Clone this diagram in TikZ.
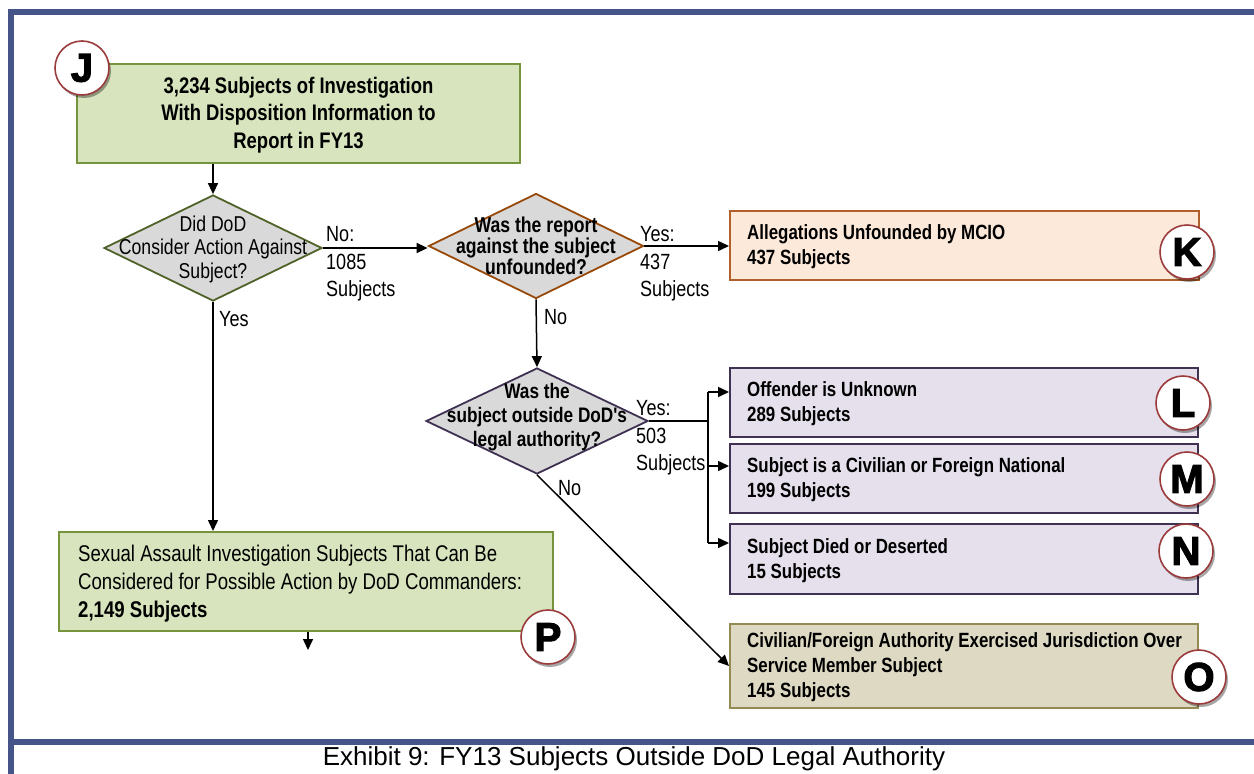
\documentclass[tikz,border=0pt]{standalone}
\usepackage{fontspec}
\setmainfont{Liberation Sans}
\newfontfamily\nar[FakeStretch=0.82]{Liberation Sans}
\newfontfamily\heavy[BoldFeatures={FakeBold=3}]{Liberation Sans}
\usetikzlibrary{shapes.geometric,arrows.meta,shadows}
\definecolor{frameblue}{HTML}{45558A}
\definecolor{gfill}{HTML}{D7E4BD}
\definecolor{gline}{HTML}{77933C}
\definecolor{dfill}{HTML}{D9D9D9}
\definecolor{donel}{HTML}{4F6228}
\definecolor{dtwol}{HTML}{984807}
\definecolor{dthreel}{HTML}{3F3151}
\definecolor{kfill}{HTML}{FDE9D9}
\definecolor{kline}{HTML}{B0602A}
\definecolor{pfill}{HTML}{E5E0EC}
\definecolor{pline}{HTML}{3F3151}
\definecolor{ofill}{HTML}{DDD9C3}
\definecolor{oline}{HTML}{948A54}
\definecolor{cred}{HTML}{9B3B3B}
\tikzset{
  every node/.style={inner sep=0pt},
  boxnode/.style={draw, rectangle, line width=2pt},
  btext/.style={anchor=west, align=left, font=\nar\bfseries\fontsize{20.6}{25}\selectfont},
  dianode/.style={diamond, draw, fill=dfill, line width=1.8pt, inner sep=0pt},
  lbl/.style={anchor=west, align=left, font=\nar\fontsize{22}{27.5}\selectfont},
  conn/.style={line width=1.5pt, -{Triangle[length=11pt,width=10pt]}},
  plain/.style={line width=1.5pt},
  bubble/.style={circle, draw=cred, line width=1.6pt, fill=white, minimum size=54pt,
    font=\heavy\bfseries\fontsize{40}{40}\selectfont,
    drop shadow={shadow xshift=2pt, shadow yshift=-3pt, opacity=0.35, fill=black}}
}
\begin{document}
\begin{tikzpicture}[x=1pt,y=-1pt]
\useasboundingbox (0,0) rectangle (1254,774);
% frame
\fill[frameblue] (8,9) rectangle (1254,15);
\fill[frameblue] (8,9) rectangle (14,774);
\fill[frameblue] (14,739) rectangle (1254,745);
\node[font=\fontsize{26}{30}\selectfont] (cap) at (634,759) {Exhibit 9: FY13 Subjects Outside DoD Legal Authority};

% top box J
\node[boxnode, draw=gline, fill=gfill, minimum width=443pt, minimum height=99pt] (jbox) at (298.5,113.5) {};
\node[align=center, font=\nar\bfseries\fontsize{22.5}{27.5}\selectfont] (jtext) at (298.5,115) {3,234 Subjects of Investigation\\With Disposition Information to\\Report in FY13};
\node[bubble] (jc) at (82,68) {J};

% diamonds
\node[dianode, draw=donel, minimum width=218pt, minimum height=106pt] (d1) at (213,248) {};
\node[align=center, font=\nar\fontsize{21.5}{23.5}\selectfont] (d1t) at (213,249) {Did DoD\\Consider Action Against\\Subject?};
\node[dianode, draw=dtwol, minimum width=215pt, minimum height=105pt] (d2) at (536,246) {};
\node[align=center, font=\nar\bfseries\fontsize{21.5}{17.5}\selectfont] (d2t) at (536,246) {Was the report\\against the subject\\unfounded?};
\node[dianode, draw=dthreel, minimum width=222pt, minimum height=106pt] (d3) at (537,421) {};
\node[align=center, font=\nar\bfseries\fontsize{21}{24}\selectfont] (d3t) at (537,417) {Was the\\subject outside DoD's\\legal authority?};

% K
\node[boxnode, draw=kline, fill=kfill, minimum width=469pt, minimum height=69pt] (kbox) at (964.5,245.5) {};
\node[btext] (kt) at (747,246.5) {Allegations Unfounded by MCIO\\437 Subjects};
\node[bubble] (kc) at (1187,252) {K};

% L M N
\node[boxnode, draw=pline, fill=pfill, minimum width=468pt, minimum height=69pt] (lbox) at (964,402.5) {};
\node[btext] (lt) at (747,404) {Offender is Unknown\\289 Subjects};
\node[bubble] (lc) at (1183,403) {L};
\node[boxnode, draw=pline, fill=pfill, minimum width=468pt, minimum height=69pt] (mbox) at (964,478.5) {};
\node[btext] (mt) at (747,479.5) {Subject is a Civilian or Foreign National\\199 Subjects};
\node[bubble] (mc) at (1187,479) {M};
\node[boxnode, draw=pline, fill=pfill, minimum width=468pt, minimum height=70pt] (nbox) at (964,559) {};
\node[btext] (nt) at (747,561) {Subject Died or Deserted\\15 Subjects};
\node[bubble] (nc) at (1186,551) {N};

% O
\node[boxnode, draw=oline, fill=ofill, minimum width=468pt, minimum height=84pt] (obox) at (964,666) {};
\node[btext] (ot) at (747,667) {Civilian/Foreign Authority Exercised Jurisdiction Over\\Service Member Subject\\145 Subjects};
\node[bubble] (oc) at (1199,677) {O};

% P
\node[boxnode, draw=gline, fill=gfill, minimum width=494pt, minimum height=99pt] (pbox) at (306,581.5) {};
\node[anchor=west, align=left, font=\nar\fontsize{22.7}{28}\selectfont] (pt) at (78,584) {Sexual Assault Investigation Subjects That Can Be\\Considered for Possible Action by DoD Commanders:\\\textbf{2,149 Subjects}};
\node[bubble] (pc) at (548,637) {P};

% connectors
\draw[conn] (jbox.south -| d1.north) -- (d1.north);
\draw[conn] (d1.east) -- (d2.west |- d1.east);
\node[lbl] (nolbl) at (326,264) {No:\\1085\\Subjects};
\draw[conn] (d2.east) -- (kbox.west |- d2.east);
\node[lbl] (yeslbl) at (640,264) {Yes:\\437\\Subjects};
\draw[conn] (d1.south) -- (d1.south |- pbox.north);
\node[lbl] (yes1) at (219,319) {Yes};
\draw[conn] (d2.south) -- (d3.north);
\node[lbl] (no2) at (544,317) {No};
\coordinate (bus) at (708,421);
\draw[plain] (d3.east) -- (bus);
\draw[plain] (708,392) -- (708,543);
\draw[conn] (708,392) -- (lbox.west |- 0,392);
\draw[conn] (708,466) -- (mbox.west |- 0,466);
\draw[conn] (708,543) -- (nbox.west |- 0,543);
\node[lbl] (yes3) at (636,438) {Yes:\\503\\Subjects};
\draw[conn] (d3.south) -- (obox.west);
\node[lbl] (no3) at (558,488) {No};
\coordinate (pend) at (308,650);
\draw[conn] (pbox.south -| pend) -- (pend);
\end{tikzpicture}
\end{document}
